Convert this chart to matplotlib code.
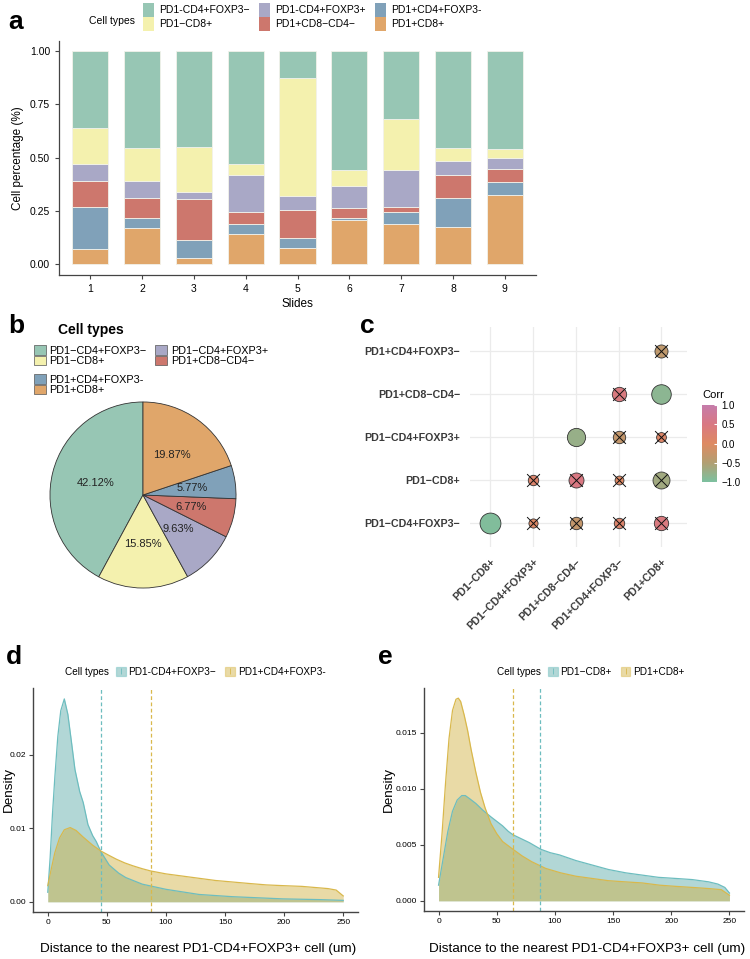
import matplotlib
matplotlib.use("Agg")
import matplotlib.pyplot as plt
import numpy as np
from matplotlib.colors import LinearSegmentedColormap, Normalize
from matplotlib.patches import Patch
from matplotlib.lines import Line2D
import matplotlib.cm as cm

plt.rcParams['font.family'] = ['Liberation Sans', 'DejaVu Sans']

W, H = 750, 959


def rect(l, t, r, b):
    return [l / W, 1 - b / H, (r - l) / W, (b - t) / H]


# ---------------- data ----------------
# panel a: stacked fractions per slide (bottom -> top)
slides = [1, 2, 3, 4, 5, 6, 7, 8, 9]
a_types = ["PD1+CD8+", "PD1+CD4+FOXP3-", "PD1+CD8−CD4−", "PD1-CD4+FOXP3+", "PD1−CD8+", "PD1-CD4+FOXP3−"]
pd1p_cd8p = [0.073, 0.170, 0.030, 0.141, 0.077, 0.208, 0.189, 0.177, 0.325]
pd1p_cd4p_foxp3n = [0.197, 0.049, 0.084, 0.048, 0.046, 0.009, 0.056, 0.136, 0.062]
pd1p_cd8n_cd4n = [0.119, 0.092, 0.191, 0.056, 0.132, 0.047, 0.025, 0.106, 0.058]
pd1n_cd4p_foxp3p = [0.084, 0.078, 0.034, 0.172, 0.065, 0.103, 0.172, 0.064, 0.052]
pd1n_cd8p = [0.168, 0.155, 0.213, 0.052, 0.555, 0.077, 0.241, 0.064, 0.045]
pd1n_cd4p_foxp3n = [0.359, 0.456, 0.448, 0.531, 0.125, 0.556, 0.317, 0.453, 0.458]

# panel b: overall composition (%)
pie_types = ["PD1−CD4+FOXP3−", "PD1−CD8+", "PD1−CD4+FOXP3+", "PD1+CD8−CD4−", "PD1+CD4+FOXP3-", "PD1+CD8+"]
pie_pct = [42.12, 15.85, 9.63, 6.77, 5.77, 19.87]

# panel c: correlation (rows bottom->top, cols left->right), nan = not shown
corr_rows = ["PD1−CD4+FOXP3−", "PD1−CD8+", "PD1−CD4+FOXP3+", "PD1+CD8−CD4−", "PD1+CD4+FOXP3−"]
corr_cols = ["PD1−CD8+", "PD1−CD4+FOXP3+", "PD1+CD8−CD4−", "PD1+CD4+FOXP3−", "PD1+CD8+"]
nan = np.nan
corr_vals = [
    [-0.95, 0.05, -0.30, 0.15, 0.45],
    [nan, 0.15, 0.50, 0.03, -0.65],
    [nan, nan, -0.75, -0.30, 0.10],
    [nan, nan, nan, 0.45, -0.85],
    [nan, nan, nan, nan, -0.35],
]
corr_sig = [
    [1, 0, 0, 0, 0],
    [0, 0, 0, 0, 0],
    [0, 0, 1, 0, 0],
    [0, 0, 0, 0, 1],
    [0, 0, 0, 0, 0],
]

# panel d: densities of distance to nearest PD1-CD4+FOXP3+ cell
d_names = ["PD1-CD4+FOXP3−", "PD1+CD4+FOXP3-"]
d1_x = [0, 2, 4, 6, 8.5, 11, 14, 17, 20, 23, 27, 30, 34, 38, 41, 45, 52, 60, 66, 80, 100, 128, 156, 199, 230, 250]
d1_y = [0.0013, 0.006, 0.012, 0.017, 0.0225, 0.026, 0.0276, 0.0255, 0.0218, 0.018, 0.015, 0.0135, 0.0105,
        0.009, 0.0082, 0.0068, 0.0050, 0.0039, 0.0033, 0.0024, 0.0017, 0.0010, 0.0007, 0.0004, 0.0003, 0.0002]
d2_x = [0, 3, 6, 10, 14, 19, 24, 30, 38, 45, 52, 58, 65, 72, 80, 87, 100, 114, 128, 142, 156, 170, 185, 199,
        215, 237, 244, 250]
d2_y = [0.0022, 0.0045, 0.0067, 0.0087, 0.0098, 0.0101, 0.0097, 0.0088, 0.0077, 0.0069, 0.0063, 0.0058,
        0.0053, 0.0049, 0.0045, 0.0042, 0.0038, 0.0035, 0.0032, 0.0029, 0.0027, 0.0025, 0.0023, 0.0022,
        0.0021, 0.0018, 0.0016, 0.0008]
d_medians = [45.1, 87.4]

# panel e
e_names = ["PD1−CD8+", "PD1+CD8+"]
e1_x = [0, 4, 8, 12, 16, 20, 23, 27, 32, 38, 45, 50, 55, 60, 64, 70, 78, 88, 96, 104, 118, 132, 146, 161,
        175, 189, 204, 218, 232, 240, 246, 250]
e1_y = [0.0014, 0.0038, 0.0062, 0.0080, 0.0090, 0.0094, 0.0094, 0.0091, 0.0087, 0.0081, 0.0075, 0.0071,
        0.0067, 0.0062, 0.0059, 0.0056, 0.0052, 0.0046, 0.0043, 0.0041, 0.0036, 0.0032, 0.0028, 0.0025,
        0.0023, 0.0021, 0.0020, 0.0019, 0.0017, 0.0015, 0.0012, 0.0007]
e2_x = [0, 3, 6, 9, 12, 15, 17, 19, 22, 25, 28, 32, 36, 40, 45, 50, 55, 64, 72, 80, 92, 105, 118, 132, 146,
        160, 175, 190, 203, 218, 232, 243, 250]
e2_y = [0.0021, 0.0060, 0.0105, 0.0145, 0.0170, 0.0180, 0.0181, 0.0178, 0.0166, 0.0152, 0.0135, 0.0115,
        0.0097, 0.0083, 0.0069, 0.0060, 0.0053, 0.0046, 0.0040, 0.0035, 0.0029, 0.0025, 0.0022, 0.0020,
        0.0018, 0.0017, 0.0016, 0.0014, 0.0013, 0.0012, 0.0011, 0.0010, 0.0005]
e_medians = [87.3, 64.2]

# ---------------- styles ----------------
TYPE_COLORS = ["#E0A66A", "#80A1B9", "#CD776D", "#A9A8C6", "#F4F1AE", "#97C6B4"]   # bottom -> top in a
PIE_COLORS = ["#97C6B4", "#F4F1AE", "#A9A8C6", "#CD776D", "#80A1B9", "#E0A66A"]
TEAL_FILL, TEAL_LINE = "#55A8A6", "#6DBDBF"
GOLD_FILL, GOLD_LINE = "#CFAE3A", "#D9B84C"
AX_COL = "#444444"

fig = plt.figure(figsize=(7.5, 9.59), dpi=100)

for lab, x, y in [("a", 8, 22), ("b", 8, 326), ("c", 360, 326), ("d", 6, 657), ("e", 378, 657)]:
    fig.text(x / W, 1 - y / H, lab, fontsize=19, fontweight="bold", va="center", ha="left")

# ---------------- a: stacked bars ----------------
ax = fig.add_axes(rect(59, 40.5, 536, 275))
stack = [pd1p_cd8p, pd1p_cd4p_foxp3n, pd1p_cd8n_cd4n, pd1n_cd4p_foxp3p, pd1n_cd8p, pd1n_cd4p_foxp3n]
bottom = np.zeros(len(slides))
handles = {}
for name, vals, col in zip(a_types, stack, TYPE_COLORS):
    b = ax.bar(slides, vals, bottom=bottom, width=0.7, color=col, edgecolor="#F2F2EA", linewidth=0.6)
    handles[name] = b
    bottom += np.array(vals)
ax.set_xlim(0.4, 9.6)
ax.set_ylim(-0.05, 1.05)
ax.set_xticks(slides)
ax.set_yticks([0, 0.25, 0.5, 0.75, 1.0])
ax.set_yticklabels(["0.00", "0.25", "0.50", "0.75", "1.00"])
for s in ("top", "right"):
    ax.spines[s].set_visible(False)
for s in ("left", "bottom"):
    ax.spines[s].set_color(AX_COL)
    ax.spines[s].set_linewidth(0.9)
ax.tick_params(colors=AX_COL, labelcolor="black", labelsize=7.5, length=3, width=0.8)
ax.set_xlabel("Slides", fontsize=8.5, labelpad=3)
ax.set_ylabel("Cell percentage (%)", fontsize=8.5, labelpad=4)
leg_order = ["PD1-CD4+FOXP3−", "PD1−CD8+", "PD1-CD4+FOXP3+", "PD1+CD8−CD4−", "PD1+CD4+FOXP3-", "PD1+CD8+"]
ax.legend([Patch(facecolor=handles[n].patches[0].get_facecolor(), edgecolor="none") for n in leg_order],
          leg_order, ncol=3, loc="upper left", bbox_to_anchor=(143 / W, 1 - 3 / H),
          bbox_transform=fig.transFigure, frameon=False, fontsize=7.5, handlelength=1.05, handleheight=1.7,
          labelspacing=0.0, handletextpad=0.5, columnspacing=0.9, borderpad=0, borderaxespad=0)
fig.text(89 / W, 1 - 21 / H, "Cell types", fontsize=7.5, va="center", ha="left")

# ---------------- b: pie ----------------
ax = fig.add_axes(rect(43, 395, 243, 595))
ax.pie(pie_pct, colors=PIE_COLORS, startangle=90, counterclock=True,
       wedgeprops=dict(edgecolor="#333333", linewidth=0.6),
       autopct=lambda p: f"{p:.2f}%", pctdistance=0.53, textprops=dict(fontsize=8, color="#222222"))
ax.set_xlim(-1.075, 1.075)
ax.set_ylim(-1.075, 1.075)
ax.set_aspect("equal")
fig.text(58 / W, 1 - 330 / H, "Cell types", fontsize=10, fontweight="bold", va="center", ha="left")
ph = [Patch(facecolor=c, edgecolor="#555555", linewidth=0.5) for c in PIE_COLORS]
kw = dict(frameon=False, fontsize=7.8, handlelength=1.08, handleheight=1.0, labelspacing=0.0,
          handletextpad=0.35, columnspacing=0.8, borderpad=0, borderaxespad=0,
          bbox_transform=fig.transFigure, loc="upper left")
l1 = ax.legend(ph[:4], pie_types[:4], ncol=2, bbox_to_anchor=(34 / W, 1 - 345 / H), **kw)
ax.add_artist(l1)
ax.legend(ph[4:], pie_types[4:], ncol=1, bbox_to_anchor=(34 / W, 1 - 374 / H), **kw)

# ---------------- c: correlation ----------------
cmap = LinearSegmentedColormap.from_list(
    "corr", ["#7CC09F", "#B29F72", "#DE8A62", "#D97882", "#C57CAB"])
norm = Normalize(-1, 1)
ax = fig.add_axes(rect(470, 327, 687, 547))
vals = np.array(corr_vals)
sig = np.array(corr_sig)
for i in range(len(corr_rows)):
    for j in range(len(corr_cols)):
        v = vals[i, j]
        if np.isnan(v):
            continue
        diam = (8.5 + 13.0 * abs(v)) * 0.72
        ax.scatter(j, i, s=diam ** 2, color=cmap(norm(v)), edgecolor="#333333", linewidth=0.6, zorder=3)
        if not sig[i, j]:
            ax.scatter(j, i, s=85, marker="x", color="#111111", linewidth=0.7, zorder=4)
ax.set_xlim(-0.47, 4.6)
ax.set_ylim(-0.57, 4.57)
ax.set_xticks(range(len(corr_cols)))
ax.set_yticks(range(len(corr_rows)))
ax.set_xticklabels(corr_cols, rotation=45, ha="right", va="top", rotation_mode="anchor")
ax.set_yticklabels(corr_rows)
for t in ax.get_xticklabels() + ax.get_yticklabels():
    t.set_fontweight("bold")
    t.set_fontsize(7.7)
    t.set_color("#3A3A3A")
ax.tick_params(length=0, pad=7)
ax.grid(True, color="#EBEBEB", linewidth=0.9, zorder=0)
ax.set_axisbelow(True)
for s in ax.spines.values():
    s.set_visible(False)

cax = fig.add_axes(rect(702, 405, 717, 482))
cb = fig.colorbar(cm.ScalarMappable(norm=norm, cmap=cmap), cax=cax)
cb.outline.set_visible(False)
cb.set_ticks([-1, -0.5, 0, 0.5, 1])
cb.set_ticklabels(["−1.0", "−0.5", "0.0", "0.5", "1.0"])
cax.tick_params(labelsize=7, length=2.5, color="white", direction="in", pad=3)
fig.text(702 / W, 1 - 395 / H, "Corr", fontsize=8, va="center", ha="left")


# ---------------- d / e: densities ----------------
def density_panel(box, series, medians, names, lab_x, ylab_x, xlab_cx, ytick_vals, ytick_fmt, ymax):
    ax = fig.add_axes(rect(*box))
    for (xs, ys), fc, lc in zip(series, [TEAL_FILL, GOLD_FILL], [TEAL_LINE, GOLD_LINE]):
        ax.fill_between(xs, ys, 0, color=fc, alpha=0.45, linewidth=0)
        ax.plot(xs, ys, color=lc, linewidth=0.9)
    for m, lc in zip(medians, [TEAL_LINE, GOLD_LINE]):
        ax.axvline(m, color=lc, linewidth=0.9, linestyle=(0, (3, 2)))
    ax.set_xlim(-12.5, 262.5)
    ax.set_ylim(-0.05 * ymax, 1.05 * ymax)
    ax.set_xticks([0, 50, 100, 150, 200, 250])
    ax.set_yticks(ytick_vals)
    ax.set_yticklabels([ytick_fmt.format(v) for v in ytick_vals])
    for s in ("top", "right"):
        ax.spines[s].set_visible(False)
    for s in ("left", "bottom"):
        ax.spines[s].set_color(AX_COL)
        ax.spines[s].set_linewidth(1.0)
    ax.tick_params(colors=AX_COL, labelcolor="black", labelsize=6, length=3, width=0.8, pad=2)
    fig.text(xlab_cx / W, 1 - 949 / H, "Distance to the nearest PD1-CD4+FOXP3+ cell (um)",
             fontsize=9.7, ha="center", va="center")
    fig.text(ylab_x / W, 1 - 789 / H, "Density", fontsize=9.7, rotation=90, ha="center", va="center")
    hs = []
    for fc, lc in zip([TEAL_FILL, GOLD_FILL], [TEAL_LINE, GOLD_LINE]):
        hs.append((Patch(facecolor=fc, alpha=0.45, edgecolor=lc, linewidth=0.9),
                   Line2D([], [], marker="|", markersize=5, linestyle="None", color=lc,
                          markeredgewidth=0.6)))
    x0 = lab_x
    fig.text(x0 / W, 1 - 672 / H, "Cell types", fontsize=7.2, va="center", ha="left")
    ax.legend(hs, names, ncol=2, loc="center left", bbox_to_anchor=((x0 + 51) / W, 1 - 672 / H),
              bbox_transform=fig.transFigure, frameon=False, fontsize=7.2, handlelength=0.95,
              handleheight=1.0, handletextpad=0.3, columnspacing=0.9, borderpad=0, borderaxespad=0)
    return ax


density_panel((33, 688, 358, 912), [(d1_x, d1_y), (d2_x, d2_y)], d_medians, d_names, 65, 9, 198,
              [0.0, 0.01, 0.02], "{:.2f}", 0.0277)
density_panel((424, 688, 744, 911), [(e1_x, e1_y), (e2_x, e2_y)], e_medians, e_names, 497, 389, 587,
              [0.0, 0.005, 0.010, 0.015], "{:.3f}", 0.0181)

fig.savefig("out.png", dpi=100)
